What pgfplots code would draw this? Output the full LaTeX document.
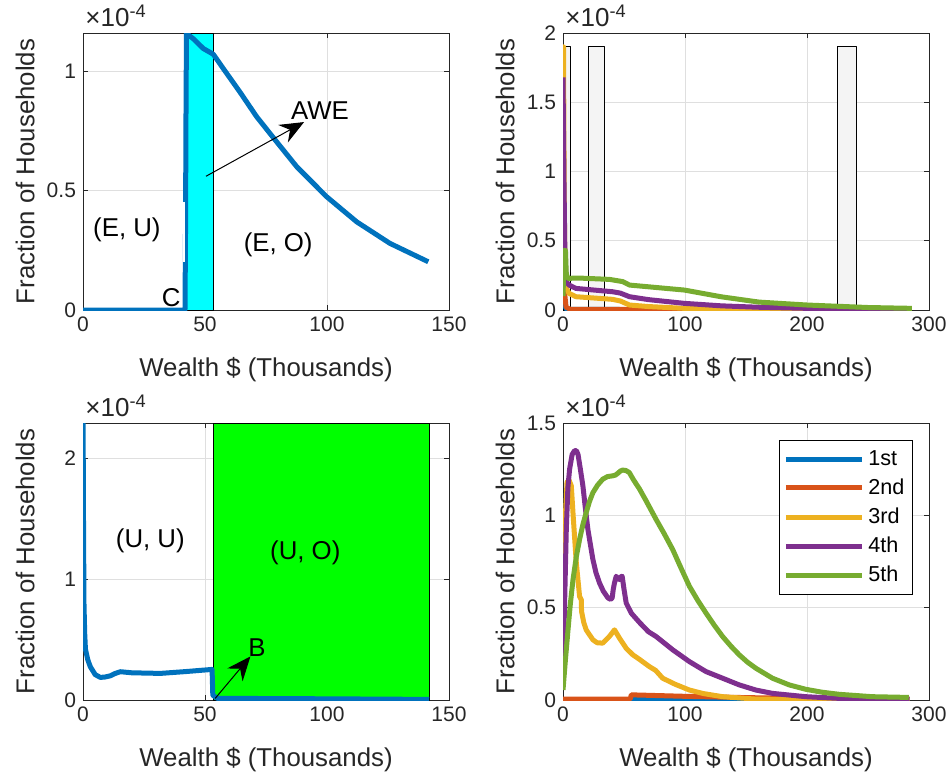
\documentclass[border=0pt]{standalone}
\usepackage{fontspec}
\setmainfont{Liberation Sans}
\usepackage{pgfplots}
\pgfplotsset{compat=1.18}
\usetikzlibrary{arrows.meta}
\definecolor{mblue}{HTML}{0072BD}
\definecolor{mred}{HTML}{D95319}
\definecolor{myellow}{HTML}{EDB120}
\definecolor{mpurple}{HTML}{7E2F8E}
\definecolor{mgreen}{HTML}{77AC30}
\definecolor{axc}{HTML}{262626}
\definecolor{gridc}{HTML}{DFDFDF}
\definecolor{barc}{HTML}{F4F4F4}
\definecolor{cyanfill}{HTML}{00FFFF}
\definecolor{greenfill}{HTML}{00FF00}

\pgfplotsset{
  matfig/.style={
    scale only axis, width=183pt, height=138.5pt, anchor=south west,
    axis line style={draw=axc, line width=0.5pt},
    tick style={draw=axc, line width=0.5pt},
    major tick length=2.5pt, tick align=inside,
    grid=major, grid style={draw=gridc, line width=0.5pt},
    ticklabel style={font=\fontsize{10.5}{12}\selectfont, text=axc},
    /pgf/number format/assume math mode=true,
    label style={font=\fontsize{12.9}{15}\selectfont, text=axc},
    xlabel={Wealth \$ (Thousands)}, ylabel={Fraction of Households},
    xlabel style={at={(axis description cs:0.5,-0.215)}, anchor=center},
    ylabel style={at={(axis description cs:-0.158,0.5)}, anchor=center},
    ymin=0, clip mode=individual,
    every axis plot/.append style={line width=2.5pt, line join=round, no marks},
  },
}
\tikzset{
  ann/.style={font=\fontsize{12.9}{15}\selectfont, text=black, inner sep=0pt},
  arr/.style={-{Stealth[length=12pt,width=10pt,inset=4pt]}, line width=0.5pt, black},
}
\newcommand{\scalelabel}{\node[anchor=base west, font=\fontsize{13}{15}\selectfont, text=axc, inner sep=0pt]
  at ([xshift=1pt,yshift=3.5pt]rel axis cs:0,1) {×10\textsuperscript{-4}};}

\begin{document}
\begin{tikzpicture}
\path[use as bounding box] (0,0) rectangle (475.5pt,-388pt);

% top left
\begin{axis}[matfig, at={(41.5pt,-155pt)},
  xmin=0, xmax=150, ymax=1.16,
  xtick={0,50,100,150}, ytick={0,0.5,1}]
\addplot[fill=cyanfill, draw=black, line width=0.5pt] coordinates {(42.6,0) (42.6,1.16) (53.3,1.16) (53.3,0)} -- cycle;
\addplot[mblue] coordinates {
 (0,0) (41.8,0) (42.0,0.3) (42.2,0.8) (42.4,1.158) (45.2,1.136) (49.3,1.095) (53.4,1.071)
 (57.5,1.011) (64.3,0.913) (71.2,0.809) (79.4,0.704) (87.6,0.6) (99.9,0.474) (112.2,0.369)
 (125.8,0.279) (141.5,0.202)};
\draw[white, line width=0.6pt] (axis cs:41.4,0.453) -- (axis cs:41.4,0.202);
\draw[arr] (axis cs:50.4,0.56) -- (axis cs:90.6,0.787);
\node[ann] at (axis cs:97.1,0.837) {AWE};
\node[ann] at (axis cs:18,0.335) {(E, U)};
\node[ann] at (axis cs:80,0.272) {(E, O)};
\node[ann] at (axis cs:36.1,0.05) {C};
\scalelabel
\end{axis}

% top right
\begin{axis}[matfig, at={(281.5pt,-155pt)},
  xmin=0, xmax=300, ymax=2,
  xtick={0,100,200,300}, ytick={0,0.5,1,1.5,2}]
\addplot[fill=barc, draw=black, line width=0.5pt] coordinates {(0,0) (0,1.9) (6.3,1.9) (6.3,0)} -- cycle;
\addplot[fill=barc, draw=black, line width=0.5pt] coordinates {(20.6,0) (20.6,1.9) (34.3,1.9) (34.3,0)} -- cycle;
\addplot[fill=barc, draw=black, line width=0.5pt] coordinates {(224.6,0) (224.6,1.9) (240.3,1.9) (240.3,0)} -- cycle;
\addplot[mblue] coordinates {(0,0.05) (3,0.005) (100,0.002) (286,0)};
\addplot[mred] coordinates {(0,0.23) (1,0.15) (2.5,0.02) (6,0.005) (52,0.004) (286,0.002)};
\addplot[myellow] coordinates {(0,1.9) (0.4,1.9) (1,0.8) (1.6,0.3) (2.5,0.16) (5,0.12) (10.6,0.096)
 (40.6,0.077) (47,0.065) (54.5,0.036) (70,0.025) (99.5,0.012) (150,0.005) (200,0.002) (286,0.001)};
\addplot[mpurple] coordinates {(0,1.68) (0.7,1.0) (1.4,0.5) (2,0.3) (3,0.2) (5,0.18) (10.6,0.156)
 (40.6,0.132) (47,0.122) (54.5,0.096) (70,0.075) (99.5,0.048) (130,0.03) (160,0.02) (200,0.012) (286,0.005)};
\addplot[mgreen] coordinates {(0,0.1) (1,0.43) (2,0.43) (2.7,0.26) (4,0.229) (15,0.23) (38.2,0.221)
 (49,0.205) (54.5,0.18) (99.5,0.144) (130,0.095) (160.8,0.057) (200,0.036) (250,0.018) (286,0.012)};
\scalelabel
\end{axis}

% bottom left
\begin{axis}[matfig, at={(41.5pt,-350pt)},
  xmin=0, xmax=150, ymax=2.29,
  xtick={0,50,100,150}, ytick={0,1,2}]
\addplot[fill=greenfill, draw=black, line width=0.5pt] coordinates {(53.5,0) (53.5,2.29) (141.9,2.29) (141.9,0)} -- cycle;
\addplot[mblue] coordinates {
 (0,2.5) (0.2,1.5) (0.4,0.8) (0.7,0.55) (1,0.42) (2,0.33) (3,0.275) (5,0.21) (7.1,0.187) (9,0.19)
 (11.2,0.2) (13,0.218) (15.3,0.234) (20,0.225) (31.7,0.22) (42,0.235) (52.9,0.253) (53.2,0.04)
 (55,0.014) (100,0.01) (141.9,0.005)};
\draw[arr] (axis cs:54.2,0.014) -- (axis cs:68.6,0.36);
\node[ann] at (axis cs:71.3,0.43) {B};
\node[ann] at (axis cs:27.6,1.32) {(U, U)};
\node[ann] at (axis cs:91.1,1.22) {(U, O)};
\scalelabel
\end{axis}

% bottom right
\begin{axis}[matfig, at={(281.5pt,-350pt)},
  xmin=0, xmax=300, ymax=1.5,
  xtick={0,100,200,300}, ytick={0,0.5,1,1.5},
  legend style={at={(0.956,0.939)}, anchor=north east, draw=black, line width=0.5pt,
    font=\fontsize{10.8}{12}\selectfont, row sep=1.2pt, inner xsep=2pt, inner ysep=3pt,
    cells={anchor=west}},
  legend image code/.code={\draw[#1, line width=2.5pt] (0pt,0pt) -- (38pt,0pt);}]
\addplot[mblue] coordinates {(0,0) (55,0) (56,0.003) (120,0.002) (284,0)};
\addlegendentry{1st}
\addplot[mred] coordinates {(0,0.005) (55,0.005) (56,0.028) (100,0.02) (150,0.013) (200,0.008) (284,0.004)};
\addlegendentry{2nd}
\addplot[myellow] coordinates {(0,0.29) (0.7,0.6) (1.4,0.924) (3.3,1.18) (5,1.19) (6.8,1.16) (8.5,0.98)
 (10.9,0.743) (13.6,0.56) (15,0.543) (15.2,0.48) (17,0.42) (19,0.38) (24.5,0.326) (28,0.31) (32.6,0.308)
 (38,0.344) (42.2,0.38) (46.3,0.335) (51.8,0.28) (57.2,0.245) (62.7,0.22) (70.8,0.181) (76,0.16)
 (81.7,0.118) (92,0.085) (103.6,0.054) (115,0.035) (130.8,0.018) (158,0.005) (200,0.002) (284,0.001)};
\addlegendentry{3rd}
\addplot[mpurple] coordinates {(0,0.163) (1.4,0.55) (2.7,0.924) (4,1.15) (5.4,1.25) (7.5,1.33) (9.5,1.35)
 (11,1.35) (12.3,1.33) (14,1.26) (16.3,1.16) (18.3,1.04) (20.4,0.924) (22.5,0.84) (24.5,0.761) (27,0.69)
 (29.9,0.634) (33,0.59) (36.8,0.553) (39,0.545) (40.3,0.553) (41.2,0.6) (42.2,0.634) (43.6,0.67) (45,0.66)
 (46.3,0.652) (47.5,0.668) (48.5,0.67) (50,0.6) (51.8,0.525) (56,0.47) (62.7,0.42) (70,0.37) (76.3,0.344)
 (89.9,0.272) (103.6,0.208) (117.2,0.154) (130.8,0.118) (144.4,0.082) (158.1,0.054) (171.7,0.036)
 (199,0.018) (226,0.009) (284,0.005)};
\addlegendentry{4th}
\addplot[mgreen] coordinates {(0,0.054) (2,0.22) (4.1,0.38) (6,0.52) (8.2,0.652) (11,0.78) (13.6,0.87)
 (16.3,0.95) (19,1.015) (21.7,1.075) (24.5,1.123) (28.5,1.165) (32.6,1.196) (36.5,1.21) (40.7,1.214)
 (43,1.218) (45,1.228) (47,1.24) (48.8,1.245) (51.5,1.243) (54.3,1.232) (58,1.19) (62.5,1.145)
 (68,1.08) (76.3,0.978) (83,0.9) (89.9,0.815) (96.7,0.715) (103.6,0.616) (110.4,0.54) (117.2,0.471)
 (124,0.405) (130.8,0.344) (137.6,0.292) (144.4,0.245) (151.2,0.205) (158.1,0.172) (171.7,0.118)
 (185.3,0.082) (199,0.058) (212.6,0.042) (226.2,0.031) (253.4,0.018) (283.4,0.014)};
\addlegendentry{5th}
\scalelabel
\end{axis}
\end{tikzpicture}
\end{document}
